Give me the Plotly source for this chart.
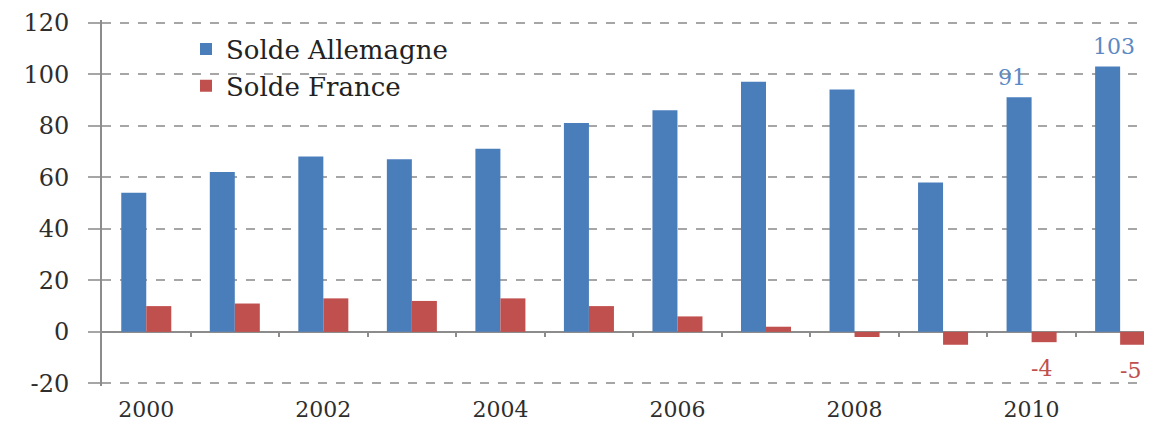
import plotly.graph_objects as go

years = [2000, 2001, 2002, 2003, 2004, 2005, 2006, 2007, 2008, 2009, 2010, 2011]
solde_allemagne = [54, 62, 68, 67, 71, 81, 86, 97, 94, 58, 91, 103]
solde_france = [10, 11, 13, 12, 13, 10, 6, 2, -2, -5, -4, -5]
labelled_years = [2010, 2011]
y_ticks = [-20, 0, 20, 40, 60, 80, 100, 120]
x_ticks = [2000, 2002, 2004, 2006, 2008, 2010]

BLUE = "#4a7ebb"
RED = "#c0504d"
GREY = "#8c8c8c"
TXT = "#2e2e2e"
FONT = "DejaVu Serif"
Y_RANGE = [-21, 121]

fig = go.Figure()
fig.add_trace(go.Bar(x=years, y=solde_allemagne, name="Solde Allemagne",
                     marker=dict(color=BLUE, line=dict(width=0))))
fig.add_trace(go.Bar(x=years, y=solde_france, name="Solde France",
                     marker=dict(color=RED, line=dict(width=0))))

blue_xshift = {2010: -20, 2011: -6}
annotations = []
for yr in labelled_years:
    i = years.index(yr)
    annotations.append(dict(x=yr, y=solde_allemagne[i], xref="x", yref="y",
                            text=str(solde_allemagne[i]), showarrow=False,
                            xshift=blue_xshift[yr], yshift=20,
                            font=dict(family=FONT, size=22, color="#5b89c4")))
    annotations.append(dict(x=yr, y=solde_france[i], xref="x", yref="y",
                            text=str(solde_france[i]), showarrow=False,
                            xshift=10, yshift=-26,
                            font=dict(family=FONT, size=22, color=RED)))

fig.update_layout(
    width=1152, height=423,
    margin=dict(l=94, r=8, t=12, b=45),
    paper_bgcolor="white", plot_bgcolor="white",
    barmode="group", bargap=0.435, bargroupgap=0,
    font=dict(family=FONT, size=22, color=TXT),
    showlegend=True,
    legend=dict(x=0.08, y=0.985, xanchor="left", yanchor="top",
                bgcolor="rgba(0,0,0,0)", font=dict(family=FONT, size=26, color="#222222"),
                tracegroupgap=0, itemwidth=30),
    annotations=annotations,
    xaxis=dict(range=[1999.5, 2011.36], tickvals=x_ticks, ticktext=[str(v) for v in x_ticks],
               showgrid=False, zeroline=False, showline=False, ticks="", automargin=False,
               ticklabelstandoff=8, tickfont=dict(family=FONT, size=22, color=TXT)),
    xaxis2=dict(overlaying="x", matches="x", anchor="free", automargin=False,
                position=(0 - Y_RANGE[0]) / (Y_RANGE[1] - Y_RANGE[0]),
                side="bottom", showgrid=False, zeroline=False, showline=False,
                tickvals=[y + 0.5 for y in years[:-1]], ticks="outside", ticklen=4,
                tickcolor=GREY, tickwidth=1.5, showticklabels=False),
    yaxis=dict(range=Y_RANGE, tickvals=y_ticks, ticktext=[str(v) for v in y_ticks],
               automargin=False,
               showgrid=True, gridcolor="#a6a6a6", griddash="dash", gridwidth=1.5,
               zeroline=True, zerolinecolor=GREY, zerolinewidth=2,
               showline=True, linecolor=GREY, linewidth=2,
               ticks="outside", ticklen=12, tickcolor="#a6a6a6", tickwidth=1.5,
               ticklabelstandoff=14, tickfont=dict(family=FONT, size=24, color=TXT)),
)
fig.add_trace(go.Scatter(x=[years[0]], y=[0], xaxis="x2", mode="markers",
                         marker=dict(opacity=0), showlegend=False, hoverinfo="skip"))

fig.write_html("out.html")
